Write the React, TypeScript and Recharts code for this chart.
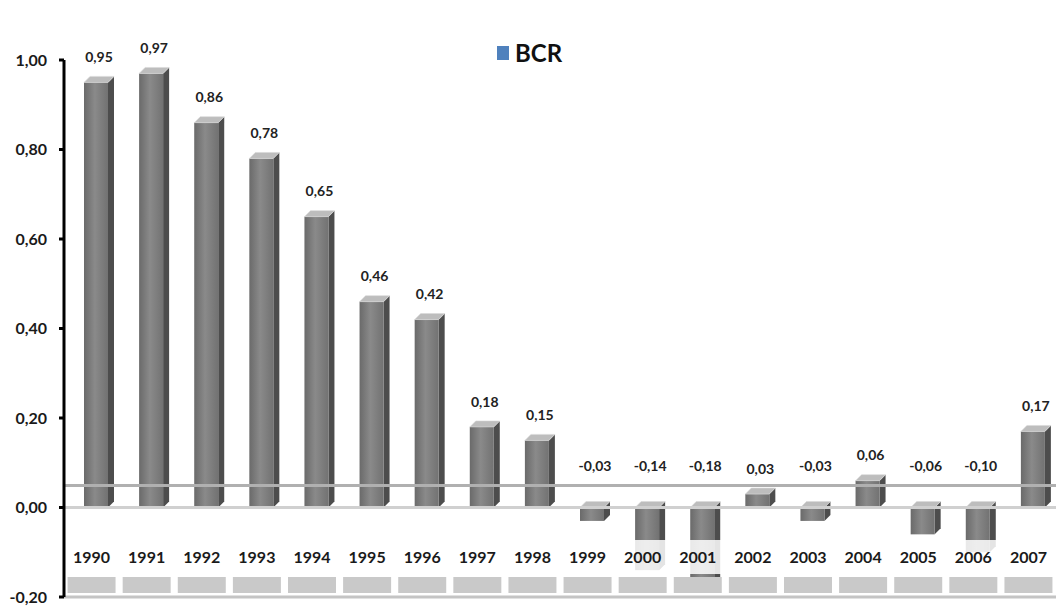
import React from "react";
import {
  BarChart,
  Bar,
  XAxis,
  YAxis,
  ReferenceLine,
  LabelList,
} from "recharts";

const years = [
  "1990", "1991", "1992", "1993", "1994", "1995", "1996", "1997", "1998",
  "1999", "2000", "2001", "2002", "2003", "2004", "2005", "2006", "2007",
];
const bcr = [
  0.95, 0.97, 0.86, 0.78, 0.65, 0.46, 0.42, 0.18, 0.15,
  -0.03, -0.14, -0.18, 0.03, -0.03, 0.06, -0.06, -0.1, 0.17,
];
const yTicks = [-0.2, 0, 0.2, 0.4, 0.6, 0.8, 1.0];
const seriesName = "BCR";

const data = years.map((year, i) => ({ year, bcr: bcr[i] }));

const FONT = "Lato, 'Liberation Sans', sans-serif";
const fmt = (v: number) => v.toFixed(2).replace(".", ",");

const DEPTH = 6;
const SHIFT = 4;

function Bar3D(props: any) {
  const { y, width, height } = props;
  const x = props.x + SHIFT;
  const top = Math.min(y, y + height);
  const h = Math.abs(height);
  const d = DEPTH;
  return (
    <g>
      <polygon
        points={`${x + width},${top} ${x + width + d},${top - d} ${x + width + d},${top + h - d} ${x + width},${top + h}`}
        fill="#4d4d4d"
      />
      <rect x={x} y={top} width={width} height={h} fill="url(#barFront)" />
      <polygon
        points={`${x},${top} ${x + d},${top - d} ${x + width + d},${top - d} ${x + width},${top}`}
        fill="#bdbdbd"
        stroke="#d8d8d8"
        strokeWidth={0.6}
      />
    </g>
  );
}

function ValueLabel(props: any) {
  const { x, y, width, height, value } = props;
  const top = Math.min(y, y + height);
  const cy = value >= 0 ? top - 24 : top - 40;
  return (
    <text
      x={x + SHIFT + width / 2 + 3}
      y={cy}
      textAnchor="middle"
      dominantBaseline="middle"
      fontFamily={FONT}
      fontWeight="bold"
      fontSize={14}
      fill="#222"
    >
      {fmt(value)}
    </text>
  );
}

function YearTick(props: any) {
  const { x, y, payload } = props;
  return (
    <g>
      <rect x={x - 25} y={y - 65} width={50} height={34} fill="#fff" fillOpacity={0.85} />
      <rect x={x - 24} y={y - 28} width={48} height={16} fill="#c9c9c9" />
      <text
        x={x}
        y={y - 46}
        textAnchor="middle"
        dominantBaseline="middle"
        fontFamily={FONT}
        fontWeight="bold"
        fontSize={16}
        fill="#1a1a1a"
      >
        {payload.value}
      </text>
    </g>
  );
}

function FloorLines(props: any) {
  const { x1, x2, y1 } = props;
  return (
    <g>
      <line x1={x1} x2={x2} y1={y1 - 22} y2={y1 - 22} stroke="#b0b0b0" strokeWidth={3} />
      <line x1={x1} x2={x2} y1={y1} y2={y1} stroke="#d0d0d0" strokeWidth={3} />
    </g>
  );
}

export default function App() {
  return (
    <div style={{ position: "absolute", left: 0, top: 0, width: 1056, height: 608, background: "#fff" }}>
      <BarChart
        width={1056}
        height={608}
        data={data}
        margin={{ top: 60, right: 0, bottom: 0, left: 0 }}
        barSize={24}
      >
        <defs>
          <linearGradient id="barFront" x1="0" y1="0" x2="1" y2="0">
            <stop offset="0%" stopColor="#6a6a6a" />
            <stop offset="45%" stopColor="#8a8a8a" />
            <stop offset="100%" stopColor="#727272" />
          </linearGradient>
        </defs>
        <ReferenceLine y={0} shape={FloorLines} />
        <XAxis
          dataKey="year"
          height={11}
          interval={0}
          axisLine={{ stroke: "#c4c4c4", strokeWidth: 3 }}
          tickLine={false}
          tick={<YearTick />}
        />
        <YAxis
          width={64}
          domain={[-0.2, 1.0]}
          ticks={yTicks}
          tickFormatter={fmt}
          axisLine={{ stroke: "#000", strokeWidth: 3 }}
          tickLine={{ stroke: "#000", strokeWidth: 3 }}
          tickSize={5}
          tickMargin={12}
          tick={{ fontFamily: FONT, fontWeight: "bold", fontSize: 16, fill: "#1a1a1a" }}
        />
        <Bar dataKey="bcr" name={seriesName} fill="#808080" shape={<Bar3D />} isAnimationActive={false}>
          <LabelList dataKey="bcr" content={<ValueLabel />} />
        </Bar>
      </BarChart>
      <div
        style={{
          position: "absolute",
          left: 497,
          top: 38,
          display: "flex",
          alignItems: "center",
          fontFamily: FONT,
          fontWeight: "bold",
          fontSize: 24,
          color: "#111",
        }}
      >
        <span style={{ display: "inline-block", width: 12, height: 14, background: "#4f81bd", marginRight: 6 }} />
        {seriesName}
      </div>
    </div>
  );
}
